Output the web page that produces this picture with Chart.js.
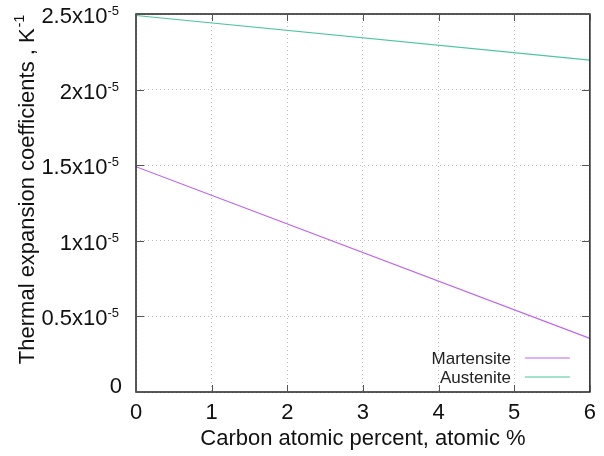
<!DOCTYPE html>
<html>
<head>
<meta charset="utf-8">
<script src="https://cdn.jsdelivr.net/npm/chart.js@4"></script>
<style>
  html, body { margin: 0; padding: 0; background: #fff; }
  #wrap { width: 604px; height: 456px; }
</style>
</head>
<body>
<div id="wrap"><canvas id="chart"></canvas></div>
<script>
// carbon content, atomic %
const carbon = [0, 6];
const martensite = [1.49e-5, 0.355e-5];
const austenite = [2.49e-5, 2.195e-5];
const seriesNames = ["Martensite", "Austenite"];
const xTicks = [0, 1, 2, 3, 4, 5, 6];
const yTicks = [0, 0.5e-5, 1e-5, 1.5e-5, 2e-5, 2.5e-5];
const yTickBase = ["0", "0.5x10", "1x10", "1.5x10", "2x10", "2.5x10"];
const yTickExp = ["", "-5", "-5", "-5", "-5", "-5"];

const FONT = "'Liberation Sans', Arial, sans-serif";
const colors = ["#c064ef", "#4cc69c"];

// gnuplot-like frame, inward ticks, superscript labels and legend
const gnuplotLook = {
  id: "gnuplotLook",
  afterDraw(chart) {
    const { ctx, chartArea: a, scales } = chart;
    const xs = scales.x, ys = scales.y;
    ctx.save();
    ctx.strokeStyle = "#222";
    ctx.lineWidth = 1.5;
    ctx.strokeRect(a.left, a.top, a.right - a.left, a.bottom - a.top);

    ctx.lineWidth = 1;
    ctx.strokeStyle = "#555";
    ctx.beginPath();
    xTicks.forEach(v => {
      const px = Math.round(xs.getPixelForValue(v)) + 0.5;
      ctx.moveTo(px, a.bottom); ctx.lineTo(px, a.bottom - 7);
      ctx.moveTo(px, a.top); ctx.lineTo(px, a.top + 7);
    });
    yTicks.forEach(v => {
      const py = Math.round(ys.getPixelForValue(v)) + 0.5;
      ctx.moveTo(a.left, py); ctx.lineTo(a.left + 8, py);
      ctx.moveTo(a.right, py); ctx.lineTo(a.right - 8, py);
    });
    ctx.stroke();

    // y tick labels with superscript exponent
    ctx.fillStyle = "#111";
    ctx.textBaseline = "alphabetic";
    yTicks.forEach((v, i) => {
      const t = ys.getPixelForValue(v);
      const x = a.left - 17;
      ctx.textAlign = "right";
      if (yTickExp[i]) {
        ctx.font = "13px " + FONT;
        const ew = ctx.measureText(yTickExp[i]).width;
        ctx.fillText(yTickExp[i], x, t + 1);
        ctx.font = "22px " + FONT;
        ctx.fillText(yTickBase[i], x - ew, t + 9);
      } else {
        ctx.font = "22px " + FONT;
        ctx.fillText(yTickBase[i], a.left - 14, t + 1);
      }
    });

    // y axis title, rotated, with superscript
    ctx.save();
    ctx.translate(34, 190);
    ctx.rotate(-Math.PI / 2);
    ctx.font = "22px " + FONT;
    const main = "Thermal expansion coefficients , K";
    const mw = ctx.measureText(main).width;
    ctx.font = "14px " + FONT;
    const sw = ctx.measureText("-1").width;
    const start = -(mw + sw) / 2;
    ctx.textAlign = "left";
    ctx.font = "22px " + FONT;
    ctx.fillText(main, start, 0);
    ctx.font = "14px " + FONT;
    ctx.fillText("-1", start + mw + 1, -10);
    ctx.restore();

    // legend, bottom right inside
    ctx.font = "17px " + FONT;
    ctx.textAlign = "right";
    ctx.textBaseline = "middle";
    chart.data.datasets.forEach((ds, i) => {
      const ly = a.bottom - 34 + i * 19;
      ctx.fillStyle = "#222";
      ctx.fillText(ds.label, a.right - 79, ly + 1);
      ctx.strokeStyle = ds.borderColor;
      ctx.lineWidth = 1.2;
      ctx.beginPath();
      ctx.moveTo(a.right - 65, ly); ctx.lineTo(a.right - 20, ly);
      ctx.stroke();
    });
    ctx.restore();
  }
};

new Chart(document.getElementById("chart"), {
  type: "line",
  data: {
    datasets: [
      {
        label: seriesNames[0],
        data: carbon.map((x, i) => ({ x: x, y: martensite[i] })),
        borderColor: colors[0],
        borderWidth: 1.2,
        pointRadius: 0,
      },
      {
        label: seriesNames[1],
        data: carbon.map((x, i) => ({ x: x, y: austenite[i] })),
        borderColor: colors[1],
        borderWidth: 1.2,
        pointRadius: 0,
      },
    ],
  },
  options: {
    responsive: true,
    maintainAspectRatio: false,
    animation: false,
    layout: { padding: { top: 14, right: 7, left: 0, bottom: 0 } },
    plugins: {
      legend: { display: false },
      tooltip: { enabled: false },
    },
    scales: {
      x: {
        type: "linear",
        min: 0,
        max: 6,
        afterBuildTicks: s => { s.ticks = xTicks.map(v => ({ value: v })); },
        afterFit: s => { s.height = 64; },
        border: { display: false, dash: [1, 3] },
        grid: {
          color: "#bdbdbd",
          tickLength: 0,
          drawTicks: false,
        },
        ticks: {
          padding: 8,
          color: "#111",
          font: { family: FONT, size: 22 },
          maxRotation: 0,
        },
        title: {
          display: true,
          text: "Carbon atomic percent, atomic %",
          color: "#111",
          font: { family: FONT, size: 22 },
          padding: { top: 2 },
        },
      },
      y: {
        type: "linear",
        min: 0,
        max: 2.5e-5,
        afterBuildTicks: s => { s.ticks = yTicks.map(v => ({ value: v })); },
        afterFit: s => { s.width = 136; },
        border: { display: false, dash: [1, 3] },
        grid: {
          color: "#bdbdbd",
          drawTicks: false,
        },
        ticks: { display: false },
      },
    },
  },
  plugins: [gnuplotLook],
});
</script>
</body>
</html>
